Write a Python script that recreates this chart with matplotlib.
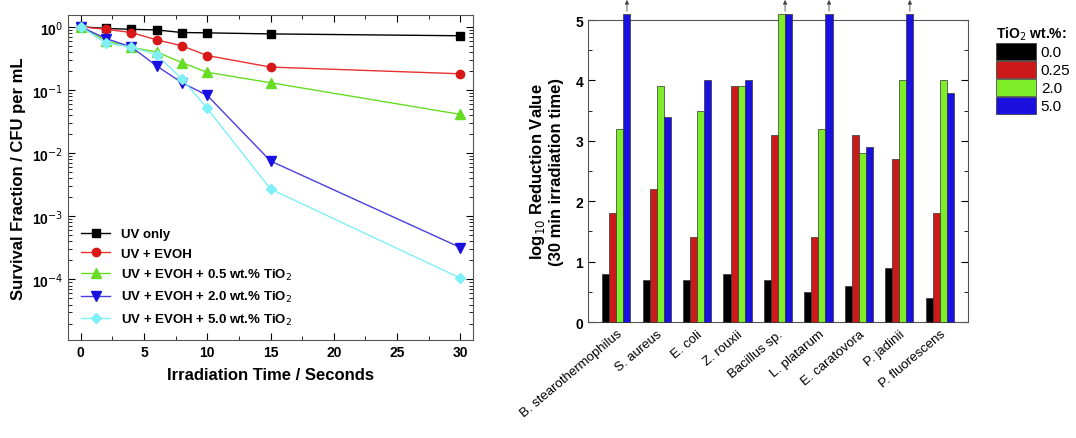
import numpy as np
import matplotlib
matplotlib.use("Agg")
import matplotlib.pyplot as plt
from matplotlib.ticker import MultipleLocator, LogLocator, NullFormatter

plt.rcParams['font.family'] = ['Liberation Sans', 'DejaVu Sans']

# left panel: survival fraction vs irradiation time
times = [0, 2, 4, 6, 8, 10, 15, 30]
uv_only = [1.0, 0.94, 0.91, 0.89, 0.81, 0.80, 0.77, 0.72]
uv_evoh = [1.0, 0.91, 0.81, 0.62, 0.50, 0.35, 0.23, 0.18]
tio2_05 = [1.0, 0.60, 0.47, 0.40, 0.27, 0.19, 0.13, 0.041]
tio2_20 = [1.0, 0.65, 0.48, 0.24, 0.13, 0.082, 0.0075, 3.2e-4]
tio2_50 = [1.0, 0.55, 0.48, 0.36, 0.15, 0.051, 0.0027, 1.05e-4]
series_labels = ["UV only", "UV + EVOH", "UV + EVOH + 0.5 wt.% TiO$_2$",
                 "UV + EVOH + 2.0 wt.% TiO$_2$", "UV + EVOH + 5.0 wt.% TiO$_2$"]

# right panel: log reduction per organism
organisms = ["B. stearothermophilus", "S. aureus", "E. coli", "Z. rouxii", "Bacillus sp.",
             "L. platarum", "E. caratovora", "P. jadinii", "P. fluorescens"]
red_00 = [0.8, 0.7, 0.7, 0.8, 0.7, 0.5, 0.6, 0.9, 0.4]
red_025 = [1.8, 2.2, 1.4, 3.9, 3.1, 1.4, 3.1, 2.7, 1.8]
red_20 = [3.2, 3.9, 3.5, 3.9, 5.1, 3.2, 2.8, 4.0, 4.0]
red_50 = [5.1, 3.4, 4.0, 4.0, 5.1, 5.1, 2.9, 5.1, 3.8]
tio2_levels = ["0.0", "0.25", "2.0", "5.0"]

fig = plt.figure(figsize=(10.76, 4.39), dpi=100)

# ---- left
ax1 = fig.add_axes([0.0632, 0.2232, 0.3764, 0.741])
line_cols = ["#000000", "#e83030", "#66dd22", "#4a3ee0", "#7ff0f8"]
mk_cols = ["#000000", "#d81818", "#66dd22", "#1a10e0", "#7ff0f8"]
markers = ["s", "o", "^", "v", "D"]
msizes = [5.5, 6, 6.5, 6.5, 5.5]
data = [uv_only, uv_evoh, tio2_05, tio2_20, tio2_50]
for d, lab, lc, mc, m, ms in zip(data, series_labels, line_cols, mk_cols, markers, msizes):
    ax1.plot(times, d, color=lc, lw=1, marker=m, ms=ms, mfc=mc, mec=mc, label=lab)
ax1.set_yscale("log")
ax1.set_xlim(-1, 31)
ax1.set_ylim(1.1e-5, 1.55)
ax1.xaxis.set_major_locator(MultipleLocator(5))
ax1.xaxis.set_minor_locator(MultipleLocator(2.5))
ax1.yaxis.set_minor_locator(LogLocator(base=10, subs=np.arange(2, 10), numticks=10))
ax1.yaxis.set_minor_formatter(NullFormatter())
ax1.set_yticks([1e-4, 1e-3, 1e-2, 1e-1, 1])
ax1.set_yticklabels(["10$^{-4}$", "10$^{-3}$", "10$^{-2}$", "10$^{-1}$", "10$^{0}$"])
ax1.tick_params(which="both", direction="in", top=True, right=True, labelsize=10)
ax1.tick_params(which="major", length=5)
ax1.tick_params(which="minor", length=3)
for t in ax1.get_xticklabels() + ax1.get_yticklabels():
    t.set_fontweight("bold")
for s in ax1.spines.values():
    s.set_color("#555555")
ax1.set_xlabel("Irradiation Time / Seconds", fontsize=12, fontweight="bold", labelpad=6)
ax1.set_ylabel("Survival Fraction / CFU per mL", fontsize=12, fontweight="bold", labelpad=4)
leg1 = ax1.legend(loc="lower left", frameon=False, prop={"weight": "bold", "size": 9.5},
                  handlelength=2.2, borderaxespad=0.6, labelspacing=0.55)

# ---- right
ax2 = fig.add_axes([0.5465, 0.2642, 0.3531, 0.6878])
x = np.arange(len(organisms))
w = 0.175
bar_cols = ["#000000", "#cc1a1a", "#7fee2a", "#1a10e0"]
vals = [red_00, red_025, red_20, red_50]
for i, (v, c, lab) in enumerate(zip(vals, bar_cols, tio2_levels)):
    ax2.bar(x + (i - 1.5) * w, v, width=w, color=c, edgecolor="#333333", lw=0.5,
            label=lab, clip_on=False, zorder=3)
# arrows for values beyond the measurable limit
for i, v in enumerate(red_50):
    if v > 5:
        xa = x[i] + 1.5 * w
        if red_20[i] > 5:
            xa = x[i] + 1.0 * w
        ax2.annotate("", xy=(xa, 5.38), xytext=(xa, 5.1), xycoords="data",
                     arrowprops=dict(arrowstyle="-|>", color="#444444", lw=0.6,
                                     mutation_scale=6), annotation_clip=False)
ax2.set_xlim(-0.7, len(organisms) - 0.3)
ax2.set_ylim(0, 5)
ax2.set_xticks(x)
ax2.set_xticklabels(organisms, rotation=40, ha="right", rotation_mode="anchor", fontsize=9.5)
ax2.tick_params(axis="x", length=0, pad=4)
ax2.yaxis.set_major_locator(MultipleLocator(1))
ax2.yaxis.set_minor_locator(MultipleLocator(0.5))
ax2.tick_params(axis="y", which="both", direction="in", right=True, labelsize=10)
ax2.tick_params(axis="y", which="major", length=5)
ax2.tick_params(axis="y", which="minor", length=3)
for t in ax2.get_yticklabels():
    t.set_fontweight("bold")
for s in ax2.spines.values():
    s.set_color("#555555")
ax2.set_ylabel("log$_{10}$ Reduction Value\n(30 min irradiation time)",
               fontsize=12, fontweight="bold", labelpad=8)
leg2 = ax2.legend(loc="upper left", bbox_to_anchor=(1.075, 0.985), frameon=False,
                  title="TiO$_2$ wt.%:", prop={"size": 11},
                  handlelength=2.6, handleheight=1.35, handletextpad=0.3,
                  labelspacing=0.05, borderaxespad=0.0, borderpad=0.0)
leg2.get_title().set_fontweight("bold")
leg2.get_title().set_fontsize(10)
leg2._legend_box.align = "left"

fig.savefig("out.png", dpi=100)
